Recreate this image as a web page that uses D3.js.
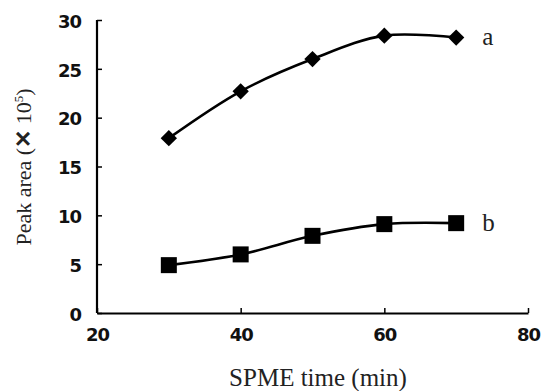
<!DOCTYPE html>
<html><head><meta charset="utf-8">
<script src="https://cdn.jsdelivr.net/npm/d3@7"></script>
<style>body{margin:0;background:#fff}</style>
</head><body>
<svg id="c" width="544" height="391"></svg>
<script>
const times = [30, 40, 50, 60, 70];
const seriesA = [17.9, 22.7, 26.0, 28.4, 28.2];
const seriesB = [4.9, 6.0, 7.9, 9.1, 9.2];
const xTicks = [20, 40, 60, 80];
const yTicks = [0, 5, 10, 15, 20, 25, 30];
const seriesLabels = ["a", "b"];

const svg = d3.select("#c");
const x = d3.scaleLinear().domain([20, 80]).range([97, 528]);
const y = d3.scaleLinear().domain([0, 30]).range([313, 20]);

const tickFont = "'DejaVu Sans', Arial, sans-serif";
const serif = "'Liberation Serif', 'Times New Roman', serif";

const xAxis = svg.append("g").attr("transform", `translate(0,${y(0)})`)
  .call(d3.axisBottom(x).tickValues(xTicks).tickSizeInner(-5).tickSizeOuter(0).tickPadding(13));
const yAxis = svg.append("g").attr("transform", `translate(${x(20)},0)`)
  .call(d3.axisLeft(y).tickValues(yTicks).tickSizeInner(-5).tickSizeOuter(0).tickPadding(16));
[xAxis, yAxis].forEach(g => {
  g.select(".domain").attr("stroke", "#000").attr("stroke-width", 2.2);
  g.selectAll(".tick line").attr("stroke", "#000").attr("stroke-width", 1.5);
  g.selectAll("text").attr("font-family", tickFont).attr("font-weight", "bold")
    .attr("font-size", 18).attr("fill", "#111").attr("letter-spacing", -1);
});
xAxis.selectAll(".tick text").attr("dy", "0.85em");
yAxis.selectAll(".tick text").attr("dy", "0.4em");
yAxis.select(".domain").attr("d", `M0,${y(0)}V${y(30)}`);

const line = d3.line().x(d => x(d[0])).y(d => y(d[1])).curve(d3.curveCatmullRom.alpha(0.5));
const dataA = times.map((t, i) => [t, seriesA[i]]);
const dataB = times.map((t, i) => [t, seriesB[i]]);

[dataA, dataB].forEach(d => {
  svg.append("path").datum(d).attr("d", line)
    .attr("fill", "none").attr("stroke", "#000").attr("stroke-width", 2.6);
});

svg.selectAll(".dia").data(dataA).enter().append("path")
  .attr("transform", d => `translate(${x(d[0])},${y(d[1])})`)
  .attr("d", d3.symbol().type(d3.symbolDiamond2).size(170))
  .attr("fill", "#000");
svg.selectAll(".sq").data(dataB).enter().append("rect")
  .attr("x", d => x(d[0]) - 8).attr("y", d => y(d[1]) - 8)
  .attr("width", 16).attr("height", 16).attr("fill", "#000");

svg.append("text").attr("x", x(70) + 26).attr("y", y(seriesA[4]) + 7)
  .attr("font-family", serif).attr("font-size", 25).attr("fill", "#222").text(seriesLabels[0]);
svg.append("text").attr("x", x(70) + 26).attr("y", y(seriesB[4]) + 8)
  .attr("font-family", serif).attr("font-size", 25).attr("fill", "#222").text(seriesLabels[1]);

svg.append("text").attr("x", 318).attr("y", 386).attr("text-anchor", "middle")
  .attr("font-family", serif).attr("font-size", 25).attr("fill", "#222").text("SPME time (min)");
const yt = svg.append("text").attr("transform", "translate(31,167) rotate(-90)")
  .attr("text-anchor", "middle").attr("font-family", serif).attr("font-size", 22).attr("fill", "#222");
yt.append("tspan").text("Peak area (");
yt.append("tspan").attr("font-family", "'Liberation Sans', Arial, sans-serif").attr("font-weight", "bold").text("✕");
yt.append("tspan").text(" 10");
yt.append("tspan").attr("font-size", 13).attr("dy", -8).text("5");
yt.append("tspan").attr("dy", 8).text(")");
</script>
</body></html>
